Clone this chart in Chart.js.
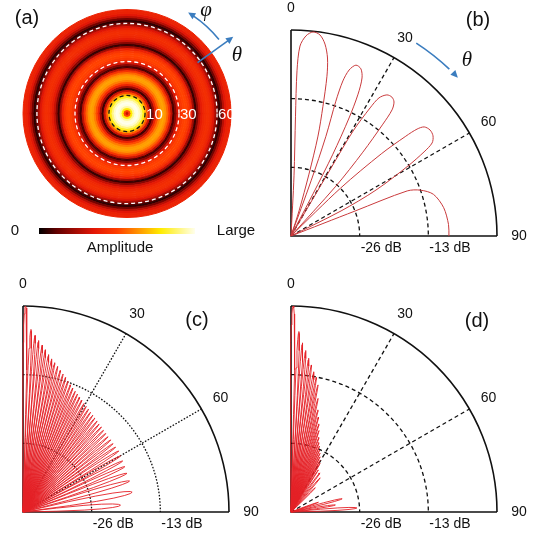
<!DOCTYPE html>
<html>
<head>
<meta charset="utf-8">
<script src="https://cdn.jsdelivr.net/npm/chart.js@4.4.1/dist/chart.umd.min.js"></script>
<style>
  html, body { margin: 0; padding: 0; background: #fff; }
  #fig { position: relative; width: 541px; height: 537px; overflow: hidden; }
  #fig canvas { position: absolute; }
</style>
</head>
<body>
<div id="fig">
  <canvas id="panelA" width="270" height="265" style="left:0;top:0;width:270px;height:265px"></canvas>
  <canvas id="panelB" width="271" height="265" style="left:270px;top:0;width:271px;height:265px"></canvas>
  <canvas id="panelC" width="270" height="267" style="left:0;top:270px;width:270px;height:267px"></canvas>
  <canvas id="panelD" width="271" height="267" style="left:270px;top:270px;width:271px;height:267px"></canvas>
</div>
<script>
// ---- (a) radial amplitude profile, centre -> rim, equal steps in sin(theta)
const ringAmplitude = [
  0.30, 0.50, 0.78, 0.93, 0.99, 1.00, 0.97, 0.90, 0.80, 0.68,
  0.52, 0.30, 0.07, 0.22, 0.40, 0.52, 0.60, 0.65, 0.66, 0.63,
  0.56, 0.45, 0.28, 0.08, 0.18, 0.32, 0.41, 0.47, 0.50, 0.51,
  0.50, 0.46, 0.38, 0.22, 0.06, 0.18, 0.30, 0.37, 0.41, 0.43,
  0.44, 0.43, 0.40, 0.34, 0.24, 0.12, 0.05, 0.14, 0.27, 0.35,
  0.39, 0.40
];
const coneAngles = [10, 30, 60];

// colour map (0 -> Large)
const cmapStops = [0, 0.11, 0.35, 0.5, 0.64, 0.78, 1];
const cmapColors = [[0, 0, 0], [96, 0, 0], [226, 22, 6], [255, 62, 0], [255, 150, 0], [255, 236, 0], [255, 255, 236]];

// ---- polar axes
const DB_FLOOR = -39;
const angleTicks = [0, 30, 60, 90];
const spokeAngles = [30, 60];
const dbRings = [-26, -13];

// ---- (b) five steered beams, [theta deg, level dB]
const bLobe1 = [[2, -39], [2.86, -27.6], [2.15, -16.3], [2.08, -7.7], [2.71, -3.0], [4.29, -1.0], [6.16, -0.15], [8.21, -0.55], [10.04, -2.1],
  [11.59, -4.6], [12.68, -8.0], [13.83, -13.7], [15.11, -19.4], [16.19, -26.8], [17.74, -34.0], [18, -39]];
const bLobe2 = [[20, -39], [20.0, -27.9], [19.3, -19.0], [18.4, -12.1], [18.5, -8.05], [19.3, -5.7], [20.8, -4.4], [22.7, -4.7],
  [24.2, -6.2], [25.3, -9.3], [26.2, -14.1], [27.1, -21.6], [27.6, -30.0], [28, -39]];
const bLobe3 = [[30.5, -39], [30.5, -24.1], [30.6, -15.9], [31.7, -10.5], [32.5, -8.0], [34.2, -6.7], [36.0, -6.5], [37.55, -7.0],
  [38.7, -8.4], [39.4, -11.6], [40.6, -18.1], [42.0, -26.3], [42.5, -39]];
const bLobe4 = [[46, -39], [46.0, -25.9], [47.7, -15.9], [49.0, -10.2], [49.7, -7.7], [50.7, -6.4], [52.7, -5.9], [54.8, -6.1],
  [56.6, -7.0], [57.7, -9.2], [59.1, -13.2], [61.6, -20.7], [63.4, -28.4], [64, -39]];
const bLobe5 = [[68.5, -39], [68.7, -26], [68.8, -15.4], [70.5, -13.0], [73.7, -10.9], [79.5, -9.6], [85.8, -9.1], [90, -9.1]];

// ---- (c) lobe peaks
const cPeakAngle = [0.7, 2.5, 3.9, 5.2, 6.6, 7.9, 9.3, 10.7, 12.0, 13.4, 14.8, 16.2, 17.6, 19.0, 20.5, 21.9, 23.4, 24.8, 26.3, 27.8,
  29.4, 30.9, 32.5, 34.1, 35.8, 37.4, 39.2, 40.9, 42.7, 44.6, 46.5, 48.5, 50.6, 52.8, 55.0, 57.5, 60.1, 62.9, 66.0, 69.6, 73.8, 79.7, 86.0];
const cPeakDb = [0, -4.4, -5.5, -6.4, -7.2, -8.0, -8.8, -9.5, -10.1, -10.7, -11.3, -11.8, -12.3, -12.8, -13.3, -13.7, -14.1, -14.4, -14.8, -15.1,
  -15.4, -15.7, -15.9, -16.2, -16.4, -16.6, -16.8, -17.0, -17.1, -17.3, -17.4, -17.5, -17.5, -17.6, -17.6, -17.5, -17.7, -17.8, -17.9, -18.0, -18.0, -18.0, -20.5];

// ---- (d) lobe peaks
const dPeakAngle = [0.6, 2.5, 3.9, 5.2, 6.6, 7.9, 9.3, 10.7, 12.0, 13.4, 14.8, 16.2, 17.6, 19.0, 20.5, 21.9, 23.4, 24.8, 26.3, 27.8,
  29.4, 30.9, 33.0, 36.5, 40.5, 45.0, 70.5, 75.5, 81.0, 86.5];
const dPeakDb = [0, -4.8, -6.9, -8.3, -9.7, -10.9, -12.1, -13.1, -14.4, -16.9, -19.0, -20.3, -21.5, -22.7, -23.9, -24.8, -25.4, -26.1, -26.6, -27.2,
  -27.8, -28.3, -29.5, -29.8, -30.5, -32.5, -33.5, -29.0, -30.5, -26.5];

// shape of one lobe: [offset as fraction of lobe width, drop from peak in dB]
const lobeProfile = [[-0.5, -99], [-0.47, -20.5], [-0.42, -12.1], [-0.35, -6.9], [-0.27, -3.6], [-0.18, -1.5], [-0.09, -0.35], [0, 0],
  [0.09, -0.35], [0.18, -1.5], [0.27, -3.6], [0.35, -6.9], [0.42, -12.1], [0.47, -20.5], [0.5, -99]];

const SANS = '"Liberation Sans", Arial, sans-serif';
const SERIF = '"Liberation Serif", "DejaVu Serif", serif';
const ARROW_BLUE = '#3b7dbf';
const RAD = Math.PI / 180;

function rgb(c) { return `rgb(${c[0]},${c[1]},${c[2]})`; }

function cmap(v) {
  for (let i = 1; i < cmapStops.length; i++) {
    if (v <= cmapStops[i]) {
      const t = (v - cmapStops[i - 1]) / (cmapStops[i] - cmapStops[i - 1]);
      const a = cmapColors[i - 1], b = cmapColors[i];
      return rgb(a.map((ch, k) => Math.round(ch + (b[k] - ch) * t)));
    }
  }
  return rgb(cmapColors[cmapColors.length - 1]);
}

function toXY(theta, db) {
  const r = Math.max(db - DB_FLOOR, 0);
  return { x: r * Math.sin(theta * RAD), y: r * Math.cos(theta * RAD) };
}

function lobeTrace(peaks, levels) {
  const pts = [];
  peaks.forEach((p, i) => {
    const left = i > 0 ? p - peaks[i - 1] : peaks[i + 1] - p;
    const right = i < peaks.length - 1 ? peaks[i + 1] - p : p - peaks[i - 1];
    const w = Math.min(left, right);
    lobeProfile.forEach(([u, drop]) => pts.push(toXY(p + u * w, levels[i] + drop)));
  });
  return pts;
}

function arrowHead(ctx, x, y, ang, size) {
  ctx.beginPath();
  ctx.moveTo(x, y);
  ctx.lineTo(x - size * Math.cos(ang - 0.45), y - size * Math.sin(ang - 0.45));
  ctx.lineTo(x - size * Math.cos(ang + 0.45), y - size * Math.sin(ang + 0.45));
  ctx.closePath();
  ctx.fill();
}

// ---- overlay for the disc: cone circles, arrows, colour bar
const discOverlay = {
  id: 'discOverlay',
  afterDatasetsDraw(chart) {
    const { ctx, chartArea } = chart;
    const cx = (chartArea.left + chartArea.right) / 2;
    const cy = (chartArea.top + chartArea.bottom) / 2;
    const R = chart.getDatasetMeta(0).controller.outerRadius;
    ctx.save();
    ctx.lineWidth = 1.3;
    ctx.font = '15px ' + SANS;
    ctx.textBaseline = 'middle';
    ctx.textAlign = 'left';
    coneAngles.forEach((deg, i) => {
      const r = R * Math.sin(deg * RAD);
      ctx.setLineDash([4, 3]);
      ctx.strokeStyle = i === 0 ? '#151515' : '#ffffff';
      ctx.beginPath();
      ctx.arc(cx, cy, r, 0, Math.PI * 2);
      ctx.stroke();
      ctx.setLineDash([]);
      ctx.fillStyle = '#ffffff';
      ctx.fillText(String(deg), cx + r + 1, cy + 1);
    });

    // phi arrow (arc) and theta arrow (radial)
    ctx.strokeStyle = ARROW_BLUE;
    ctx.fillStyle = ARROW_BLUE;
    ctx.lineWidth = 1.6;
    const a0 = -38.8 * RAD, a1 = -58.8 * RAD, ra = R + 14;
    ctx.beginPath();
    ctx.arc(cx, cy, ra, a0, a1 + 3 * RAD, true);
    ctx.stroke();
    arrowHead(ctx, cx + ra * Math.cos(a1), cy + ra * Math.sin(a1), Math.atan2(-Math.cos(a1), Math.sin(a1)), 8);
    const t = -35.8 * RAD;
    ctx.beginPath();
    ctx.moveTo(cx + (R - 17) * Math.cos(t), cy + (R - 17) * Math.sin(t));
    ctx.lineTo(cx + (R + 22) * Math.cos(t), cy + (R + 22) * Math.sin(t));
    ctx.stroke();
    arrowHead(ctx, cx + (R + 27) * Math.cos(t), cy + (R + 27) * Math.sin(t), t, 8);

    ctx.fillStyle = '#111';
    ctx.textAlign = 'center';
    ctx.font = 'italic 21px ' + SERIF;
    ctx.fillText('\u03c6', 206, 10);
    ctx.fillText('\u03b8', 237, 55);
    ctx.font = '20px ' + SANS;
    ctx.fillText('(a)', 27, 18);

    // colour bar
    const g = ctx.createLinearGradient(39, 0, 195, 0);
    cmapStops.forEach((s, i) => g.addColorStop(s, rgb(cmapColors[i])));
    ctx.fillStyle = g;
    ctx.fillRect(39, 228, 156, 6);
    ctx.fillStyle = '#111';
    ctx.font = '15px ' + SANS;
    ctx.fillText('0', 15, 231);
    ctx.fillText('Large', 236, 231);
    ctx.fillText('Amplitude', 120, 248);
    ctx.restore();
  }
};

// ---- quarter polar frame, grid and labels
const polarFrame = {
  id: 'polarFrame',
  beforeDatasetsDraw(chart, args, opts) {
    const { ctx, scales: { x, y } } = chart;
    const ox = x.getPixelForValue(0), oy = y.getPixelForValue(0);
    const rad = v => x.getPixelForValue(v) - ox;
    const R = rad(-DB_FLOOR);
    ctx.save();
    ctx.strokeStyle = '#111';
    ctx.lineWidth = 1.3;
    ctx.setLineDash(opts.dash);
    dbRings.forEach(db => {
      ctx.beginPath();
      ctx.arc(ox, oy, rad(db - DB_FLOOR), -Math.PI / 2, 0);
      ctx.stroke();
    });
    spokeAngles.forEach(deg => {
      ctx.beginPath();
      ctx.moveTo(ox, oy);
      ctx.lineTo(ox + R * Math.sin(deg * RAD), oy - R * Math.cos(deg * RAD));
      ctx.stroke();
    });
    ctx.setLineDash([]);
    ctx.lineWidth = 1.6;
    ctx.beginPath();
    ctx.moveTo(ox, oy - R);
    ctx.lineTo(ox, oy);
    ctx.lineTo(ox + R, oy);
    ctx.stroke();
    ctx.beginPath();
    ctx.arc(ox, oy, R, -Math.PI / 2, 0);
    ctx.stroke();
    ctx.restore();
  },
  afterDatasetsDraw(chart, args, opts) {
    const { ctx, scales: { x, y } } = chart;
    const ox = x.getPixelForValue(0), oy = y.getPixelForValue(0);
    const rad = v => x.getPixelForValue(v) - ox;
    const R = rad(-DB_FLOOR);
    ctx.save();
    ctx.fillStyle = '#111';
    ctx.font = '14px ' + SANS;
    ctx.textAlign = 'center';
    ctx.textBaseline = 'middle';
    angleTicks.forEach(deg => {
      ctx.fillText(String(deg), ox + (R + 22) * Math.sin(deg * RAD), oy - (R + 22) * Math.cos(deg * RAD));
    });
    ctx.textAlign = 'left';
    dbRings.forEach(db => ctx.fillText(`${db} dB`, ox + rad(db - DB_FLOOR) + 1, oy + 12));
    ctx.textAlign = 'center';
    ctx.font = '20px ' + SANS;
    ctx.fillText(opts.letter, ox + opts.letterAt[0], oy + opts.letterAt[1]);
    if (opts.arrow) {
      const ra = R + 24, t0 = (33 - 90) * RAD, t1 = (46.5 - 90) * RAD;
      ctx.strokeStyle = ARROW_BLUE;
      ctx.fillStyle = ARROW_BLUE;
      ctx.lineWidth = 1.6;
      ctx.beginPath();
      ctx.arc(ox, oy, ra, t0, t1 - 3 * RAD);
      ctx.stroke();
      arrowHead(ctx, ox + ra * Math.cos(t1), oy + ra * Math.sin(t1), Math.atan2(Math.cos(t1), -Math.sin(t1)), 8);
      ctx.fillStyle = '#111';
      ctx.font = 'italic 21px ' + SERIF;
      ctx.fillText('\u03b8', ox + 176, oy - 176);
    }
    ctx.restore();
  }
};

function polarChart(id, datasets, frame) {
  return new Chart(document.getElementById(id), {
    type: 'scatter',
    data: { datasets },
    options: {
      responsive: false,
      animation: false,
      events: [],
      layout: { padding: frame.padding },
      scales: {
        x: { type: 'linear', min: 0, max: -DB_FLOOR, display: false },
        y: { type: 'linear', min: 0, max: -DB_FLOOR, display: false }
      },
      plugins: {
        legend: { display: false },
        tooltip: { enabled: false },
        polarFrame: frame
      }
    },
    plugins: [polarFrame]
  });
}

function lobeSet(points, color, width, tension) {
  return {
    data: points,
    showLine: true,
    borderColor: color,
    borderWidth: width,
    tension: tension,
    pointRadius: 0,
    clip: 6
  };
}

// (a) disc: one doughnut ring per sample, outermost first
const rings = ringAmplitude.slice().reverse().map(v => {
  const c = cmap(v);
  return { data: [1], backgroundColor: c, borderColor: c, borderWidth: 1 };
});
new Chart(document.getElementById('panelA'), {
  type: 'doughnut',
  data: { datasets: rings },
  options: {
    responsive: false,
    animation: false,
    events: [],
    cutout: 0,
    radius: 104,
    layout: { padding: { left: 22, right: 38, top: 9, bottom: 47 } },
    plugins: { legend: { display: false }, tooltip: { enabled: false } }
  },
  plugins: [discOverlay]
});

// (b)
polarChart('panelB',
  [bLobe1, bLobe2, bLobe3, bLobe4, bLobe5].map(l => lobeSet(l.map(([t, d]) => toXY(t, d)), '#c93a3c', 1, 0.3)),
  { padding: { left: 21, top: 30, right: 44, bottom: 29 }, dash: [4, 3], letter: '(b)', letterAt: [187, -216], arrow: true });

// (c)
polarChart('panelC',
  [lobeSet(lobeTrace(cPeakAngle, cPeakDb), '#e42026', 0.9, 0)],
  { padding: { left: 23, top: 36, right: 41, bottom: 25 }, dash: [1.6, 1.6], letter: '(c)', letterAt: [174, -192], arrow: false });

// (d)
polarChart('panelD',
  [lobeSet(lobeTrace(dPeakAngle, dPeakDb), '#e42026', 0.9, 0)],
  { padding: { left: 21, top: 36, right: 44, bottom: 25 }, dash: [4, 3], letter: '(d)', letterAt: [186, -191], arrow: false });
</script>
</body>
</html>
